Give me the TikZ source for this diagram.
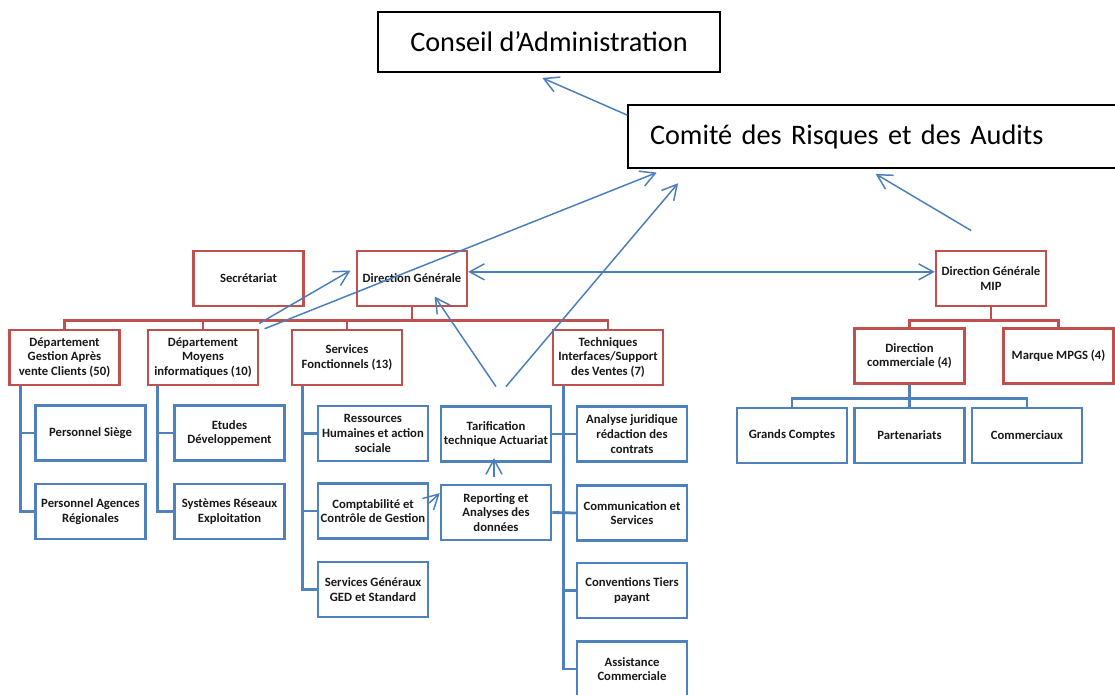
\documentclass[tikz,border=0pt]{standalone}
\usepackage{fontspec}
\setmainfont{Carlito}
\usetikzlibrary{arrows.meta,calc,shadows}

\definecolor{redbd}{HTML}{C0504D}
\definecolor{bluebd}{HTML}{4F81BD}
\definecolor{arrowblue}{HTML}{4A7EBB}

\tikzset{
  box/.style={rectangle, minimum width=82.5pt, minimum height=41.25pt, inner sep=1pt,
    align=center, fill=white, font=\fontsize{9.5}{11}\selectfont\bfseries, text=black!90},
  redbox/.style={box, draw=redbd, line width=1.8pt,
    drop shadow={shadow xshift=1pt, shadow yshift=-1pt, opacity=0.25, fill=black}},
  bluebox/.style={box, draw=bluebd, line width=1.9pt},
  bigbox/.style={rectangle, draw=black, line width=0.9pt, fill=white,
    font=\fontsize{21.2}{24}\selectfont},
  redline/.style={draw=redbd, line width=2.1pt},
  blueline/.style={draw=bluebd, line width=2.1pt},
  barb/.tip={Straight Barb[length=11pt,width=12pt]},
  arr/.style={draw=arrowblue, line width=1.1pt, -barb},
}

\begin{document}
\begin{tikzpicture}[x=0.75pt, y=-0.75pt]
\useasboundingbox (0,0) rectangle (1115,695);

\node[bigbox, minimum width=256.5pt, minimum height=45pt] (conseil) at (549,42) {Conseil d’Administration};
\node[bigbox, text width=334.5pt, inner xsep=16.5pt, minimum height=47.25pt, align=left] (crta) at (873,136.5) {Comité des Risques et des Audits};

\node[redbox] (secr) at (248.5,278.5) {Secrétariat};
\node[redbox] (dg) at (412,278.5) {Direction Générale};
\node[redbox] (dgac) at (64.5,357.5) {Département\\Gestion Après\\vente Clients (50)};
\node[redbox] (dmi) at (203,357.5) {Département\\Moyens\\informatiques (10)};
\node[redbox] (sf) at (347,357.5) {Services\\Fonctionnels (13)};
\node[redbox] (tis) at (608,357.5) {Techniques\\Interfaces/Support\\des Ventes (7)};
\node[redbox] (mip) at (991,278.5) {Direction Générale\\MIP};
\node[redbox] (dcom) at (909.5,356) {Direction\\commerciale (4)};
\node[redbox] (mpgs) at (1058.5,356) {Marque MPGS (4)};

\node[bluebox] (psiege) at (90.5,433) {Personnel Siège};
\node[bluebox] (pagences) at (90.5,511.5) {Personnel Agences\\Régionales};
\node[bluebox] (etudes) at (229.5,433) {Etudes\\Développement};
\node[bluebox] (systemes) at (229.5,511.5) {Systèmes Réseaux\\Exploitation};
\node[bluebox] (rh) at (373,433.5) {Ressources\\Humaines et action\\sociale};
\node[bluebox] (compta) at (373,511) {Comptabilité et\\Contrôle de Gestion};
\node[bluebox] (sg) at (373,589.5) {Services Généraux\\GED et Standard};
\node[bluebox] (tarif) at (496,434) {Tarification\\technique Actuariat};
\node[bluebox] (reporting) at (496,512.5) {Reporting et\\Analyses des\\données};
\node[bluebox] (analyse) at (632,434) {Analyse juridique\\rédaction des\\contrats};
\node[bluebox] (comm) at (632,513) {Communication et\\Services};
\node[bluebox] (conv) at (632,590.5) {Conventions Tiers\\payant};
\node[bluebox] (assist) at (632,669) {Assistance\\Commerciale};
\node[bluebox] (grands) at (792,435.5) {Grands Comptes};
\node[bluebox] (parten) at (909.5,435.5) {Partenariats};
\node[bluebox] (commerciaux) at (1027,435.5) {Commerciaux};

\coordinate (dgbar) at ($(dg.south)+(0,13)$);
\draw[redline] (dg.south) -- (dgbar);
\draw[redline] (dgac.north) |- (dgbar) -| (tis.north);
\draw[redline] (dmi.north) -- (dmi.north |- dgbar);
\draw[redline] (sf.north) -- (sf.north |- dgbar);

\coordinate (mipbar) at ($(mip.south)+(0,13)$);
\draw[redline] (mip.south) -- (mipbar);
\draw[redline] (dcom.north) |- (mipbar) -| (mpgs.north);

\foreach \b in {psiege,pagences} \draw[blueline] ([xshift=9pt]dgac.south west) |- (\b.west);
\foreach \b in {etudes,systemes} \draw[blueline] ([xshift=8.25pt]dmi.south west) |- (\b.west);
\foreach \b in {rh,compta,sg} \draw[blueline] ([xshift=9pt]sf.south west) |- (\b.west);
\foreach \b in {analyse,comm,conv,assist} \draw[blueline] ([xshift=9pt]tis.south west) |- (\b.west);
\draw[blueline] (tarif.east) -- (analyse.west);
\draw[blueline] (reporting.east) -- (comm.west);

\coordinate (dcombar) at ($(dcom.south)+(0,14)$);
\draw[blueline] (dcom.south) -- (dcombar);
\draw[blueline] (grands.north) |- (dcombar) -| (commerciaux.north);
\draw[blueline] (parten.north) -- (dcombar);

\draw[arr] ([yshift=16pt]crta.west) -- ([xshift=-5pt,yshift=-4pt]conseil.south);
\draw[arr] ([yshift=4pt]dmi.north east) -- ([xshift=-4pt,yshift=6pt]dg.west);
\draw[arr] ([xshift=4pt]dmi.north east) -- ([xshift=22pt,yshift=-3pt]crta.south west);
\draw[arr] ([xshift=7.5pt,yshift=14pt]tarif.north) -- ([xshift=38pt,yshift=-11pt]crta.south west);
\draw[arr] ([yshift=14pt]tarif.north) -- ([xshift=17pt,yshift=8pt]dg.south);
\draw[arr] ([xshift=-15pt,yshift=14.5pt]mip.north) -- ([xshift=2pt,yshift=-4pt]crta.south);
\draw[arr, barb-barb] ([yshift=5pt]dg.east) -- ([yshift=5pt]mip.west);
\draw[arr] ([xshift=-1.5pt,yshift=5pt]reporting.north) -- ([xshift=-1.5pt,yshift=3.5pt]tarif.south);
\draw[arr] (compta.8) -- (reporting.161);
\end{tikzpicture}
\end{document}
